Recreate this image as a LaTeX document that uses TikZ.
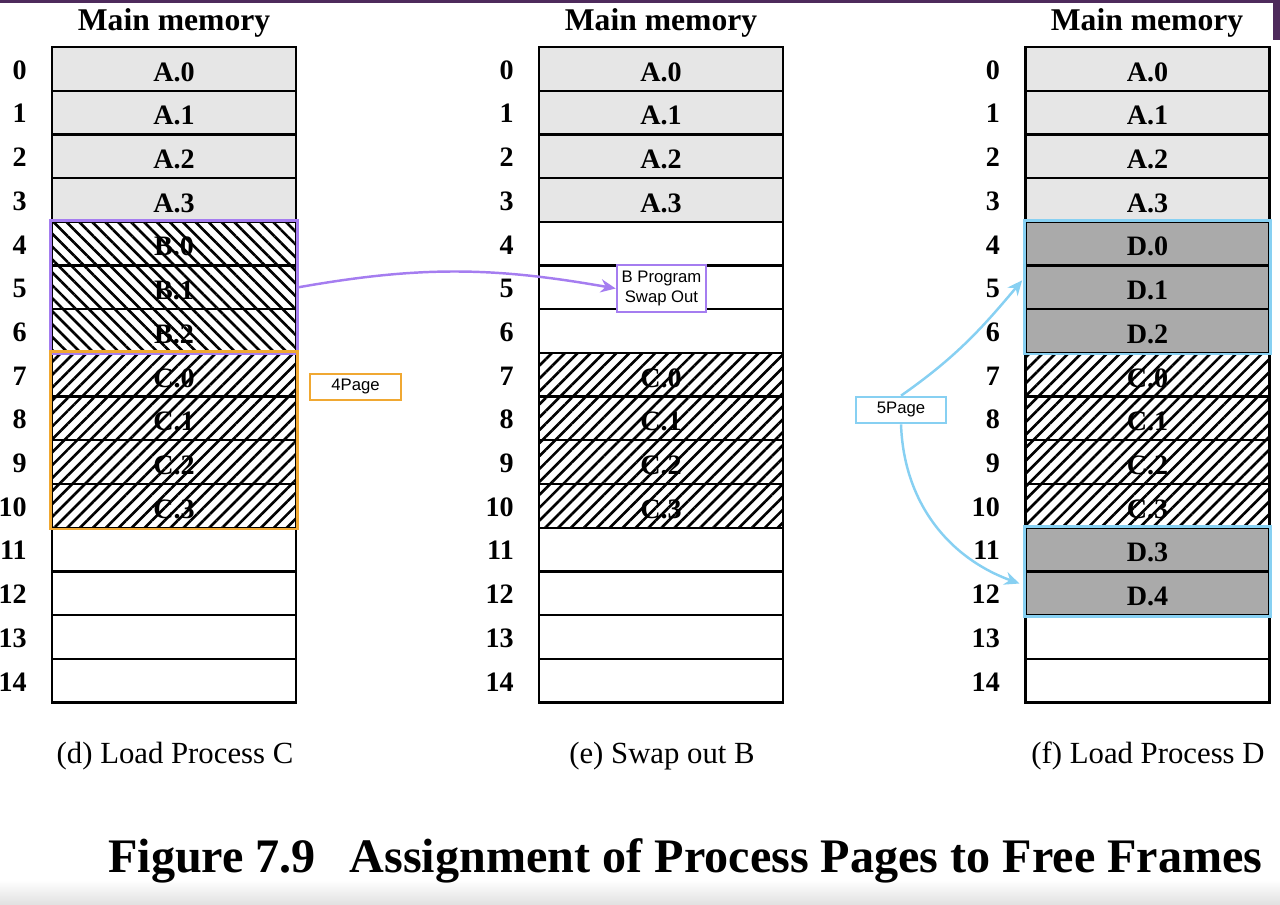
\documentclass[tikz,border=0pt]{standalone}
\usepackage{fontspec}
\setmainfont{Liberation Serif}
\newfontfamily\notefont{Liberation Sans}
\usetikzlibrary{arrows.meta,fit,patterns.meta}
\definecolor{swapPurple}{RGB}{165,125,240}
\definecolor{loadOrange}{RGB}{240,168,50}
\definecolor{loadCyan}{RGB}{135,208,242}
\definecolor{pageA}{RGB}{230,230,230}
\definecolor{pageD}{RGB}{170,170,170}
\definecolor{slideBar}{RGB}{78,42,92}

\tikzset{
  memcell/.style={draw, line width=1.3pt, minimum width=4.88cm, minimum height=0.874cm,
    inner sep=0pt, text height=14pt, text depth=0pt, font=\fontsize{16}{16}\selectfont\bfseries},
  free/.style={memcell, fill=white},
  apage/.style={memcell, fill=pageA},
  bpage/.style={memcell, pattern={Lines[angle=-45,distance=5.2pt,line width=1.5pt]}},
  cpage/.style={memcell, pattern={Lines[angle=45,distance=5.2pt,line width=1.5pt]}},
  dpage/.style={memcell, fill=pageD},
  frameno/.style={anchor=east, font=\fontsize{16}{16}\selectfont\bfseries},
  head/.style={anchor=base, font=\fontsize{18}{18}\selectfont\bfseries},
  panelcap/.style={anchor=base, font=\fontsize{17.5}{17.5}\selectfont},
  group/.style={draw=#1, line width=1.5pt, inner sep=0pt},
  note/.style={draw=#1, line width=1.5pt, fill=white, align=center, inner sep=1pt,
    font=\notefont\fontsize{9.5}{11.5}\selectfont},
  pagearrow/.style={#1, line width=1.4pt, -{Stealth[length=8.5pt,width=7.5pt]}},
}

\begin{document}
\begin{tikzpicture}[x=0.02cm, y=0.02cm]
\useasboundingbox (0,0) rectangle (1280,905);

% slide chrome
\fill[slideBar] (0,902) rectangle (1280,905);
\fill[slideBar] (1273,865) rectangle (1280,905);
\shade[top color=white, bottom color=black!12] (0,0) rectangle (1280,25);

% Headers
\node[head] (dHead) at (174,874) {Main memory};
\node[head] (eHead) at (661,874) {Main memory};
\node[head] (fHead) at (1147,874) {Main memory};

% Frame numbers
\foreach \p/\x in {d/33, e/520, f/1006}
  \foreach \r in {0,...,14}
    \node[frameno] (\p n\r) at (\x, 835-43.7*\r) {\r};

% (d) Load Process C
\foreach \r/\kind/\txt in {0/apage/A.0, 1/apage/A.1, 2/apage/A.2, 3/apage/A.3,
    4/bpage/B.0, 5/bpage/B.1, 6/bpage/B.2, 7/cpage/C.0, 8/cpage/C.1, 9/cpage/C.2,
    10/cpage/C.3, 11/free/{}, 12/free/{}, 13/free/{}, 14/free/{}}
  \node[\kind] (d\r) at (174, 836.15-43.7*\r) {\txt};

% (e) Swap out B
\foreach \r/\kind/\txt in {0/apage/A.0, 1/apage/A.1, 2/apage/A.2, 3/apage/A.3,
    4/free/{}, 5/free/{}, 6/free/{}, 7/cpage/C.0, 8/cpage/C.1, 9/cpage/C.2,
    10/cpage/C.3, 11/free/{}, 12/free/{}, 13/free/{}, 14/free/{}}
  \node[\kind] (e\r) at (661, 836.15-43.7*\r) {\txt};

% (f) Load Process D
\foreach \r/\kind/\txt in {0/apage/A.0, 1/apage/A.1, 2/apage/A.2, 3/apage/A.3,
    4/dpage/D.0, 5/dpage/D.1, 6/dpage/D.2, 7/cpage/C.0, 8/cpage/C.1, 9/cpage/C.2,
    10/cpage/C.3, 11/dpage/D.3, 12/dpage/D.4, 13/free/{}, 14/free/{}}
  \node[\kind] (f\r) at (1147.5, 836.15-43.7*\r) {\txt};

% Captions
\node[panelcap] (dCap) at (175,141) {(d) Load Process C};
\node[panelcap] (eCap) at (662,141) {(e) Swap out B};
\node[panelcap] (fCap) at (1148,141) {(f) Load Process D};

\node[anchor=base west, inner sep=0pt, font=\fontsize{27.4}{27.4}\selectfont\bfseries] (title) at (108,32)
    {Figure 7.9\hspace{0.7em}Assignment of Process Pages to Free Frames};

% Highlights
\node[group=swapPurple, fit=(d4)(d6)] (bGroup) {};
\node[group=loadOrange, fit=(d7)(d10)] (cGroup) {};
\node[group=loadCyan, fit=(f4)(f6)] (dTop) {};
\node[group=loadCyan, fit=(f11)(f12)] (dLow) {};

\node[note=loadOrange, minimum width=1.82cm, minimum height=0.52cm] (fourPage) at (355.5,518) {4Page};
\node[note=swapPurple, minimum width=1.78cm, minimum height=0.94cm] (swapNote) at (661.5,616.5)
    {B Program\\Swap Out};
\node[note=loadCyan, minimum width=1.8cm, minimum height=0.52cm] (fivePage) at (901,495) {5Page};

\draw[pagearrow=swapPurple] (bGroup.east) to[out=10, in=170] (swapNote.west);
\draw[pagearrow=loadCyan, shorten >=2pt] (fivePage.north) to[out=35, in=230] ([yshift=5.5pt]f5.west);
\draw[pagearrow=loadCyan, shorten >=3pt] (fivePage.south) to[out=-88, in=160] ([yshift=4.5pt]f12.west);

\end{tikzpicture}
\end{document}
